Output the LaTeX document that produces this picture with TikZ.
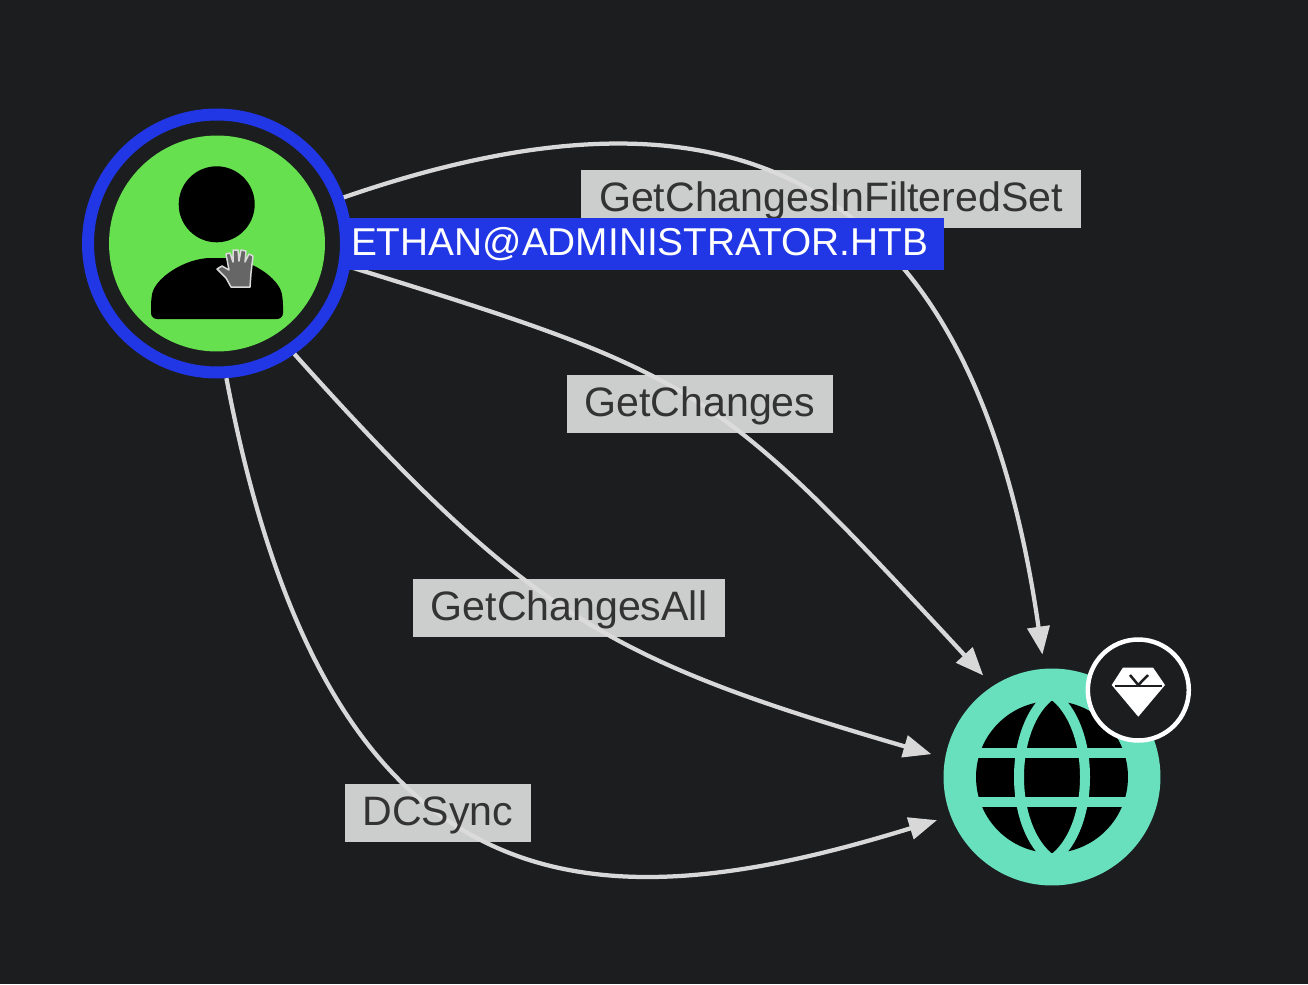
\documentclass[tikz,border=0pt]{standalone}
\usepackage{fontspec}
\setmainfont{Liberation Sans}
\usetikzlibrary{arrows.meta,shapes}
\definecolor{bgdark}{HTML}{1B1D1F}
\definecolor{ringblue}{HTML}{2136E4}
\definecolor{usergreen}{HTML}{66E04F}
\definecolor{domainteal}{HTML}{68E0BD}
\definecolor{edgegray}{HTML}{D8D8D8}
\definecolor{labelgray}{HTML}{DCDCDC}
\definecolor{labeltext}{HTML}{333333}
\definecolor{handgray}{HTML}{666666}
\tikzstyle{userring} = [circle, draw=ringblue, fill=bgdark, line width=.24cm, minimum size=5.16cm, inner sep=0pt]
\tikzstyle{userdisc} = [circle, fill=usergreen, minimum size=4.32cm, inner sep=0pt]
\tikzstyle{domaindisc} = [circle, fill=domainteal, minimum size=4.34cm, inner sep=0pt]
\tikzstyle{globe} = [circle, fill=black, minimum size=3.04cm, inner sep=0pt]
\tikzstyle{badge} = [circle, draw=white, fill=bgdark, line width=.09cm, minimum size=2.02cm, inner sep=0pt]
\tikzstyle{edgelabel} = [rectangle, fill=labelgray, fill opacity=.92, text opacity=1, text=labeltext, minimum height=1.16cm, inner xsep=.36cm, inner ysep=0pt, text height=.63cm, text depth=.13cm, font=\fontsize{23.4}{28}\selectfont]
\tikzstyle{namelabel} = [rectangle, fill=ringblue, text=white, minimum height=1.04cm, text width=11.74cm, align=left, inner xsep=.12cm, inner ysep=0pt, text height=.58cm, text depth=.12cm, font=\fontsize{22.1}{26}\selectfont]
\tikzstyle{line} = [draw=edgegray, line width=.085cm, shorten >=.28cm, -{Triangle[length=.56cm,width=.44cm]}]
\tikzstyle{meridian} = [draw=domainteal, line width=.2cm]

\begin{document}
\begin{tikzpicture}[x=.02cm, y=-.02cm]
    \fill [bgdark] (0,0) rectangle (1308,984);
    \node [userring] (ethan) at (217,243.5) {};
    \node [userdisc] (ethanDisc) at (ethan) {};
    \node [domaindisc] (domain) at (1052,777) {};
    \node [globe] (globe) at (domain) {};
    \draw [meridian] (1052,694) .. controls (1008,725) and (1008,829) .. (1052,860) .. controls (1096,829) and (1096,725) .. (1052,694) -- cycle;
    \draw [meridian] (975,753) -- (1129,753);
    \draw [meridian] (975,801.5) -- (1129,801.5);
    \node [badge] (tier) at (1138.3,690) {};
    \fill [white] (1123,667.5) -- (1153,667.5) -- (1165,685) -- (1138.3,716.7) -- (1111.7,685) -- cycle;
    \draw [bgdark, line width=.04cm] (1115,686) -- (1162,686);
    \draw [bgdark, line width=.05cm] (1130,675) -- (1138.3,685) -- (1148,675);
    \fill [black] (216.7,204.3) circle (38);
    \fill [black, rounded corners=.12cm] (151,319) -- (151,300) .. controls (155,278) and (185,258) .. (217,258) .. controls (250,258) and (279,278) .. (283,300) -- (283,319) -- cycle;
    \path [line] (ethan.20.7) .. controls (701,74) and (969,141) .. (domain.94);
    \path [line] (ethan.-10.3) .. controls (700,375) and (715,385) .. (domain.123.5);
    \path [line] (ethan.-55.9) .. controls (530,617) and (609,660) .. (domain.170.6);
    \path [line] (ethan.-86) .. controls (330,925) and (597,925) .. (domain.201);
    \node [edgelabel] (filteredSet) at (831,199) {GetChangesInFilteredSet};
    \node [edgelabel] (getChanges) at (700,403.5) {GetChanges};
    \node [edgelabel] (getChangesAll) at (569,608) {GetChangesAll};
    \node [edgelabel] (dcSync) at (438,813) {DCSync};
    \node [namelabel] (ethanName) at (644.5,244) {ETHAN@ADMINISTRATOR.HTB};
    \draw [draw=white!85!black, fill=handgray, line width=.03cm, line join=round] (231,287) -- (226,278) -- (217,269) -- (222,266) -- (229,270) -- (226,254) -- (230,253) -- (233,262) -- (233,250) -- (238,250) -- (239,261) -- (241,250) -- (246,251) -- (245,262) -- (249,254) -- (253,256) -- (251,273) -- (250,287) -- cycle;
  \end{tikzpicture}
\end{document}
